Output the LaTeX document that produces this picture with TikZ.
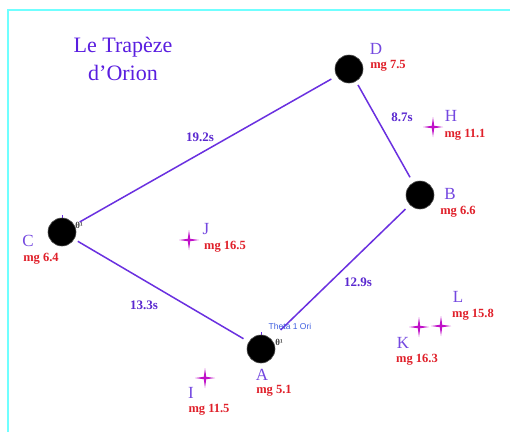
\documentclass[tikz,border=0pt]{standalone}
\usepackage{fontspec}
\setmainfont{Liberation Serif}
\newfontfamily\lsans{Liberation Sans}
\definecolor{frame}{HTML}{70FFFF}
\definecolor{titlecol}{HTML}{5A1EE0}
\definecolor{lettercol}{HTML}{7448E0}
\definecolor{mgcol}{HTML}{E0202A}
\definecolor{edgecol}{HTML}{6A30E0}
\definecolor{edgelab}{HTML}{5A28D0}
\definecolor{starcol}{HTML}{C010C8}
\definecolor{thetacol}{HTML}{4060E0}
\tikzset{
  x=1pt, y=-1pt,
  star/.style={circle, fill=black, draw=black!70, line width=0.6pt, minimum size=28pt, inner sep=0pt},
  letter/.style={text=lettercol, font=\fontsize{17}{17}\selectfont, inner sep=0pt},
  mglab/.style={text=mgcol, font=\fontsize{12.5}{12.5}\selectfont\bfseries, inner sep=0pt},
  edgelabel/.style={text=edgelab, font=\fontsize{13}{13}\selectfont\bfseries, inner sep=0pt},
  edge/.style={draw=edgecol, line width=1.5pt},
  titletext/.style={text=titlecol, font=\fontsize{22}{22}\selectfont, inner sep=0pt},
  thetasmall/.style={text=black!75, font=\fontsize{9}{9}\selectfont\bfseries, inner sep=0pt},
  sparkle/.pic={
    \fill[starcol] (-10,0) -- (-1.2,-1.2) -- (0,-10) -- (1.2,-1.2) -- (10,0) -- (1.2,1.2) -- (0,10) -- (-1.2,1.2) -- cycle;
    \fill[starcol] (0,0) circle (1.8);
  }
}
\begin{document}
\begin{tikzpicture}
\useasboundingbox (0,0) rectangle (510,432);
\fill[white] (0,0) rectangle (510,432);
% frame
\draw[frame, line width=2.5pt] (8,432) -- (8,10) -- (510,10);

% title
\node[titletext] (t1) at (123,47) {Le Trapèze};
\node[titletext] (t2) at (123,73) {d’Orion};

% tick marks on top of C and A
\draw[edgecol, line width=0.8pt] (62,215) -- (62,219);
\draw[edgecol, line width=0.8pt] (261,332) -- (261,336);

% main stars
\node[star] (D) at (349,69) {};
\node[star] (B) at (420,195) {};
\node[star] (C) at (62,232) {};
\node[star] (A) at (261,349) {};

% connectors
\draw[edge, shorten <=6pt, shorten >=6pt] (C) -- (D);
\draw[edge, shorten <=4pt, shorten >=6pt] (D) -- (B);
\draw[edge, shorten <=6pt, shorten >=13pt] (B) -- (A);
\draw[edge, shorten <=4pt, shorten >=6pt] (C) -- (A);

% edge labels
\node[edgelabel] (lCD) at (200,137) {19.2s};
\node[edgelabel] (lDB) at (402,117) {8.7s};
\node[edgelabel] (lBA) at (358,282) {12.9s};
\node[edgelabel] (lCA) at (144,305) {13.3s};

% labels of main stars
\node[letter] (Dl) at (376,49) {D};
\node[mglab] (Dm) at (388,66) {mg 7.5};
\node[letter] (Bl) at (450,194) {B};
\node[mglab] (Bm) at (458,212) {mg 6.6};
\node[letter] (Cl) at (28,241) {C};
\node[mglab] (Cm) at (41,259) {mg 6.4};
\node[letter] (Al) at (262,375) {A};
\node[mglab] (Am) at (274,391) {mg 5.1};
\node[thetasmall] (thC) at (79,225) {θ¹};
\node[thetasmall] (thA) at (279,342) {θ¹};
\node[text=thetacol, font=\lsans\fontsize{8.5}{8.5}\selectfont, inner sep=0pt] (theta) at (290,326) {Theta 1 Ori};

% faint stars
\pic (H) at (433,127) {sparkle};
\pic (J) at (189,240) {sparkle};
\pic (I) at (205,378) {sparkle};
\pic (K) at (419,327) {sparkle};
\pic (L) at (441,326) {sparkle};

\node[letter] (Hl) at (451,116) {H};
\node[mglab] (Hm) at (465,135) {mg 11.1};
\node[letter] (Jl) at (206,229) {J};
\node[mglab] (Jm) at (225,247) {mg 16.5};
\node[letter] (Il) at (191,393) {I};
\node[mglab] (Im) at (209,410) {mg 11.5};
\node[letter] (Kl) at (403,343) {K};
\node[mglab] (Km) at (417,360) {mg 16.3};
\node[letter] (Ll) at (458,297) {L};
\node[mglab] (Lm) at (473,315) {mg 15.8};
\end{tikzpicture}
\end{document}
